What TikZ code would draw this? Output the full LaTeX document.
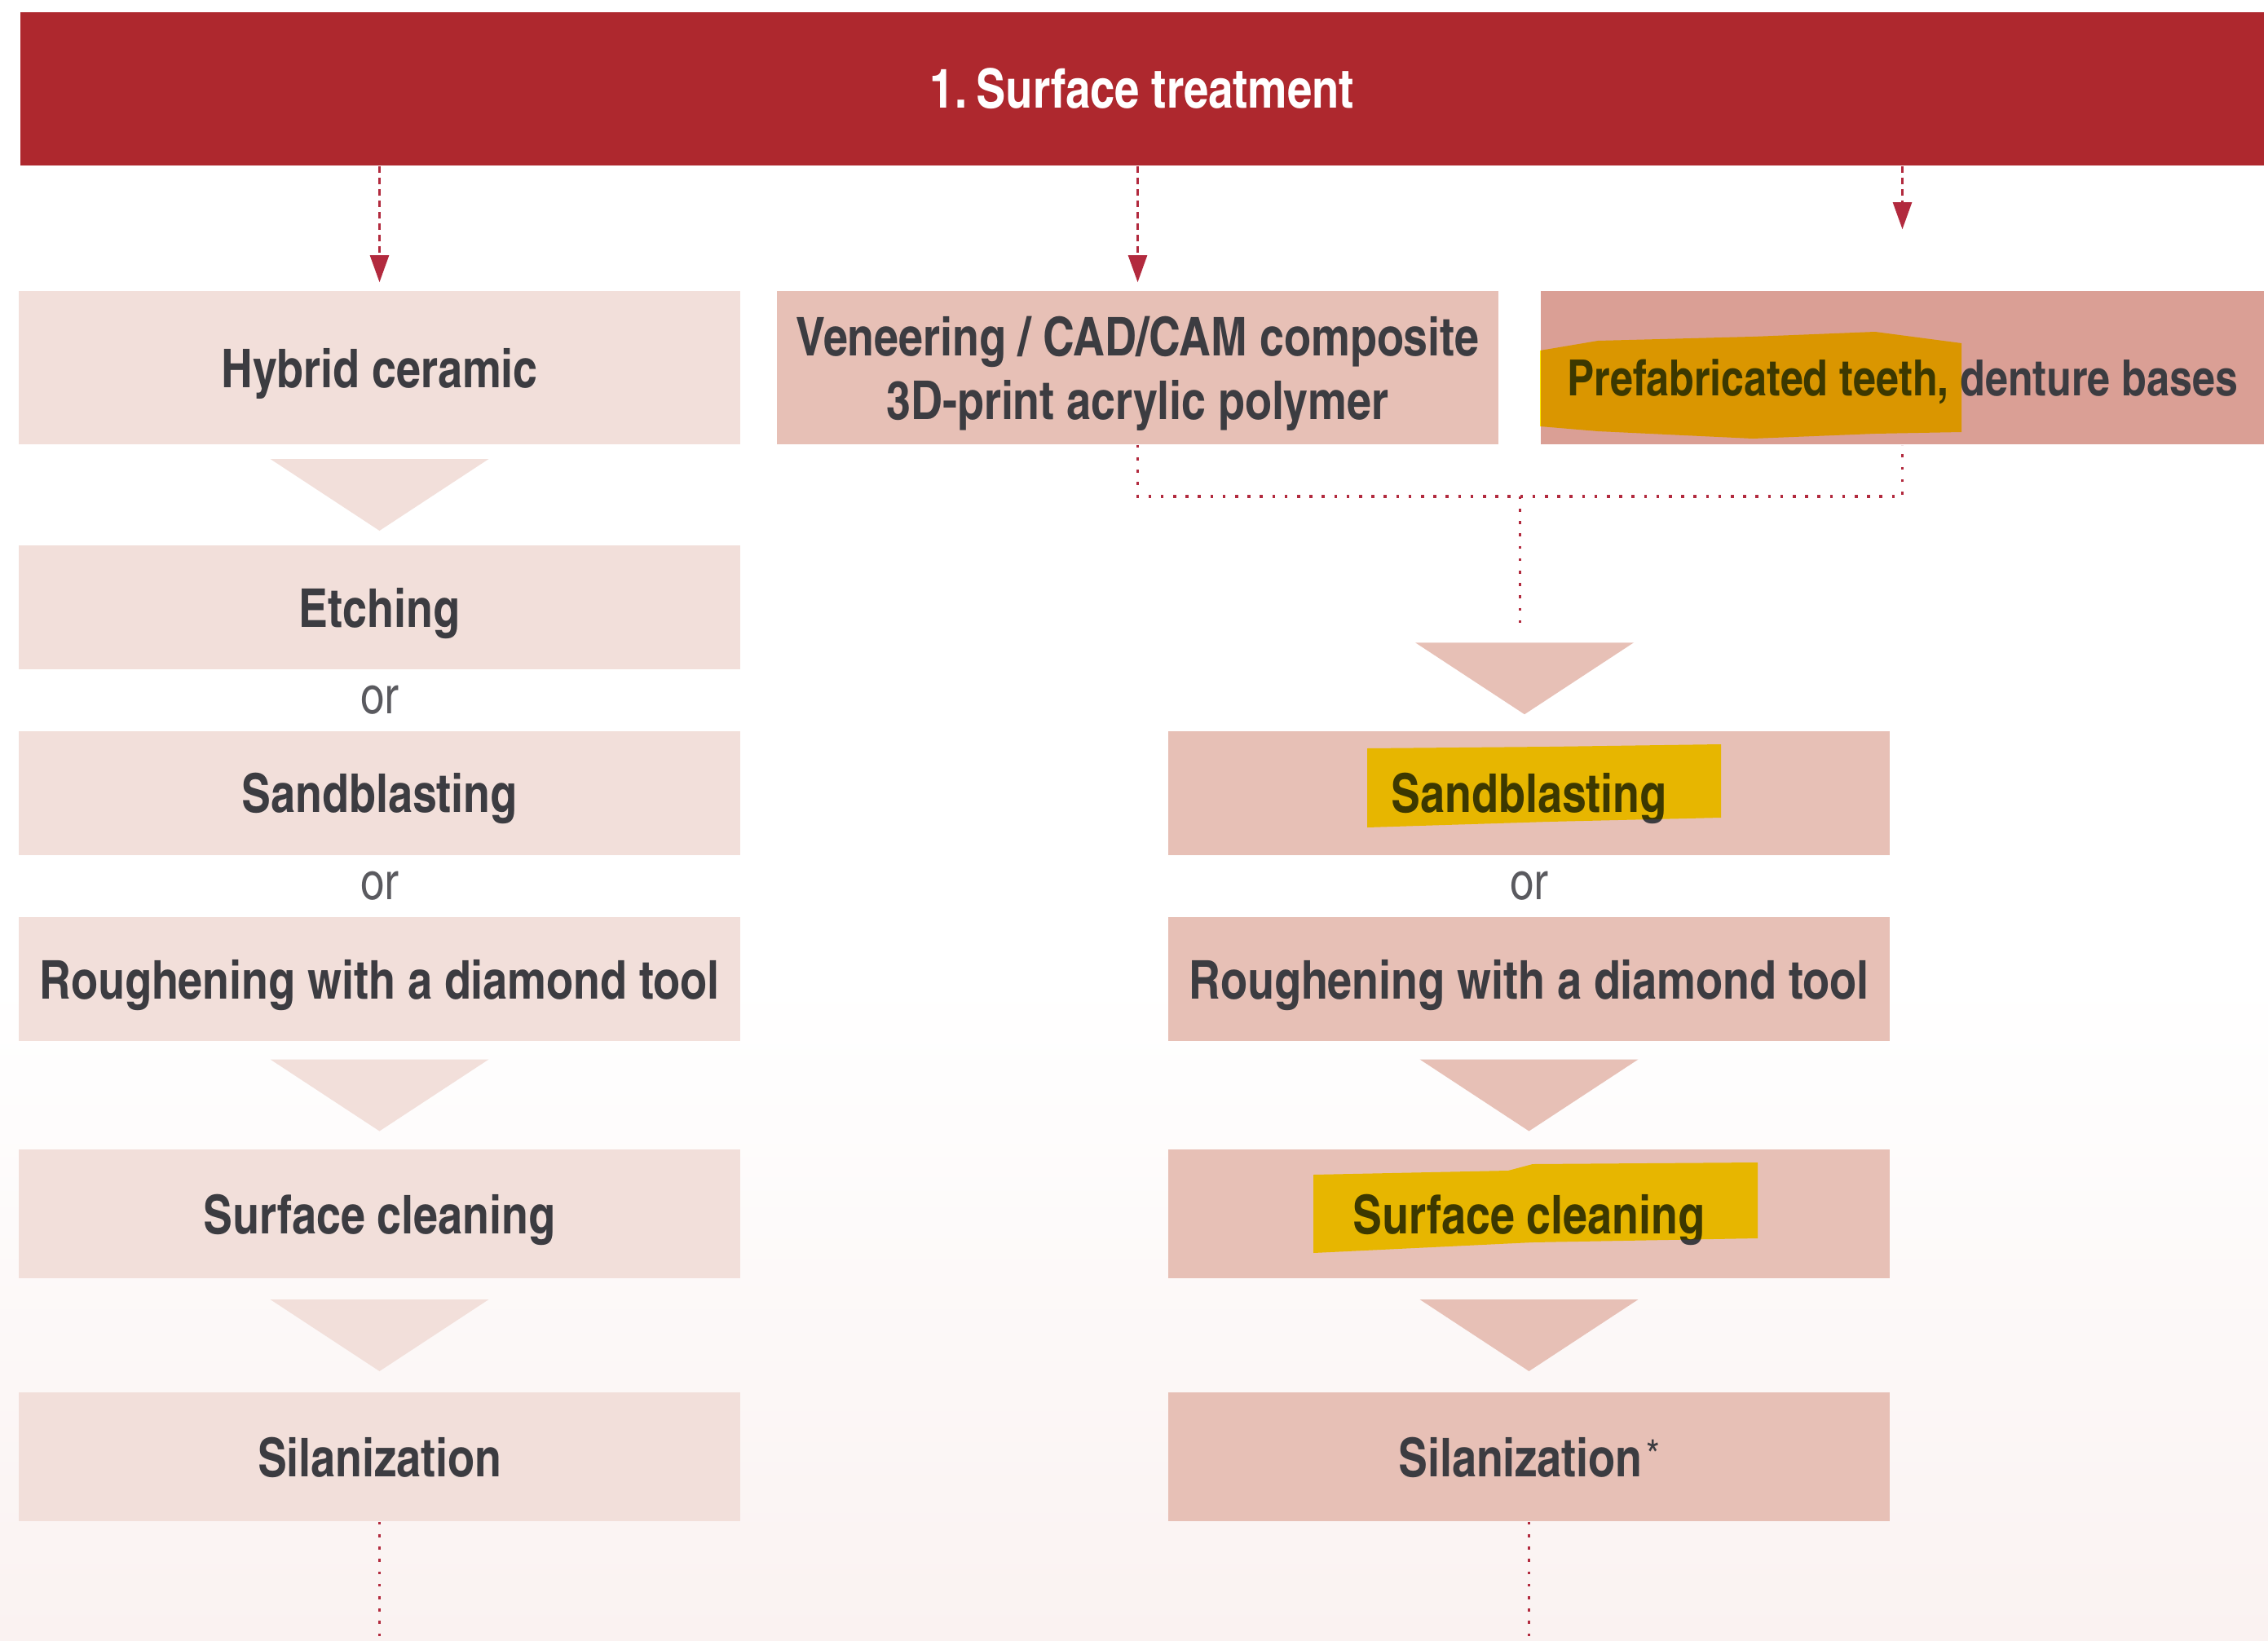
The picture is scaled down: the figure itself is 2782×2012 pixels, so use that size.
\documentclass[tikz,border=0pt]{standalone}
\usepackage{fontspec}
\setmainfont{texgyreheroscn}[Extension=.otf, UprightFont=*-regular, BoldFont=*-bold, ItalicFont=*-italic, BoldItalicFont=*-bolditalic]
\usetikzlibrary{calc,arrows.meta,positioning}

\definecolor{barred}{HTML}{AE282E}
\definecolor{lightrose}{HTML}{F2DFDA}
\definecolor{midrose}{HTML}{E7C0B6}
\definecolor{darkrose}{HTML}{DA9F95}
\definecolor{txtgray}{HTML}{3C3C41}
\definecolor{orgray}{HTML}{5A5A5F}
\definecolor{linkred}{HTML}{B22A3E}
\definecolor{bgpink}{HTML}{FAF2F1}

% flow triangle centred between two points
\newcommand{\flowtri}[3]{%
  \fill[#1] ($#2!0.5!#3+(-134,-44)$) -- ++(268,0) -- ($#2!0.5!#3+(0,44)$) -- cycle;}

\begin{document}
\begin{tikzpicture}[
    x=0.25pt, y=-0.25pt,
    box/.style={rectangle, inner sep=0pt, minimum width=221.25pt, minimum height=38pt,
      text depth=0pt, align=center, text=txtgray, font=\fontsize{16.4}{19.5}\selectfont\bfseries},
    tallbox/.style={box, minimum height=47pt},
    lowbox/.style={box, minimum height=39.5pt},
    titlebar/.style={rectangle, inner sep=0pt, fill=barred, minimum width=688pt,
      minimum height=47pt, text=white, font=\fontsize{16.6}{20}\selectfont\bfseries},
    ortext/.style={inner sep=0pt, text depth=0pt, text=orgray, font=\fontsize{16}{18}\selectfont},
    feed/.style={draw=linkred, line width=0.6pt, dash pattern=on 2pt off 1.5pt,
      -{Triangle[length=8.25pt, width=5.75pt]}},
    link/.style={draw=linkred, line width=0.9pt, dash pattern=on 0.9pt off 2.9pt},
    marker/.style={fill=yellow},
  ]
\useasboundingbox (0,0) rectangle (2782,2012);
\fill[top color=white, bottom color=bgpink] (0,1200) rectangle (2782,2012);

\node[titlebar] (title) at (1401,109) {1.\,Surface treatment};

% first row
\node[tallbox, fill=lightrose] (hybrid) at (465.5,451) {Hybrid ceramic};
\node[tallbox, fill=midrose] (veneer) at (1395.5,451) {Veneering / CAD/CAM composite\\3D-print acrylic polymer};
\node[tallbox, fill=darkrose, minimum width=221.75pt, text height=17pt, font=\fontsize{15.3}{19.5}\selectfont\bfseries] (prefab) at (2333.5,451) {Prefabricated teeth, denture bases};

% left column
\node[box, fill=lightrose] (etchL) at (465.5,745) {Etching};
\node[box, fill=lightrose] (sandL) at (465.5,972.5) {Sandblasting};
\node[box, fill=lightrose] (roughL) at (465.5,1201) {Roughening with a diamond tool};
\node[lowbox, fill=lightrose] (cleanL) at (465.5,1489) {Surface cleaning};
\node[lowbox, fill=lightrose] (silanL) at (465.5,1787) {Silanization};
\node[ortext] (or1L) at ($(etchL.south)!0.5!(sandL.north)$) {or};
\node[ortext] (or2L) at ($(sandL.south)!0.5!(roughL.north)$) {or};

% right column
\node[box, fill=midrose] (sandR) at (1875.5,972.5) {Sandblasting};
\node[box, fill=midrose] (roughR) at (1875.5,1201) {Roughening with a diamond tool};
\node[lowbox, fill=midrose] (cleanR) at (1875.5,1489) {Surface cleaning};
\node[lowbox, fill=midrose] (silanR) at (1875.5,1787) {Silanization\kern1.2pt\raisebox{0.12em}{\mdseries\fontsize{13}{13}\selectfont *}};
\node[ortext] (orR) at ($(sandR.south)!0.5!(roughR.north)$) {or};

% arrows from the title bar
\draw[feed] (title.south -| hybrid.north) -- ([yshift=2.5pt]hybrid.north);
\draw[feed] (title.south -| veneer.north) -- ([yshift=2.5pt]veneer.north);
\draw[feed] (title.south -| prefab.north) -- ([yshift=18.75pt]prefab.north);

% joined branch
\coordinate (join) at ($(veneer.south)!0.5!(prefab.south)+(0,63)$);
\coordinate (joinend) at ($(join)+(0,160)$);
\draw[link] (veneer.south) -- (veneer.south |- join) -- (prefab.south |- join) -- (prefab.south);
\draw[link] (join) -- (joinend);

% flow triangles
\flowtri{lightrose}{(hybrid.south)}{(etchL.north)}
\flowtri{lightrose}{(roughL.south)}{(cleanL.north)}
\flowtri{lightrose}{(cleanL.south)}{(silanL.north)}
\flowtri{midrose}{(joinend)}{(sandR.north)}
\flowtri{midrose}{(roughR.south)}{(cleanR.north)}
\flowtri{midrose}{(cleanR.south)}{(silanR.north)}

% onward
\draw[link] (silanL.south) -- ++(0,146);
\draw[link] (silanR.south) -- ++(0,146);

% marker highlights
\begin{scope}[blend mode=multiply]
\fill[marker] (1889,430) -- (1960,418) -- (2150,413) -- (2300,407) -- (2406,421) -- (2406,530)
  -- (2300,532) -- (2150,538) -- (1960,529) -- (1889,523) -- cycle;
\fill[marker] (1677,918) -- (1900,916) -- (2111,913) -- (2111,1003) -- (1900,1008) -- (1677,1015) -- cycle;
\fill[marker] (1611,1441) -- (1850,1436) -- (1880,1428) -- (2156,1426) -- (2156,1519)
  -- (1880,1524) -- (1611,1537) -- cycle;
\end{scope}
\end{tikzpicture}
\end{document}
